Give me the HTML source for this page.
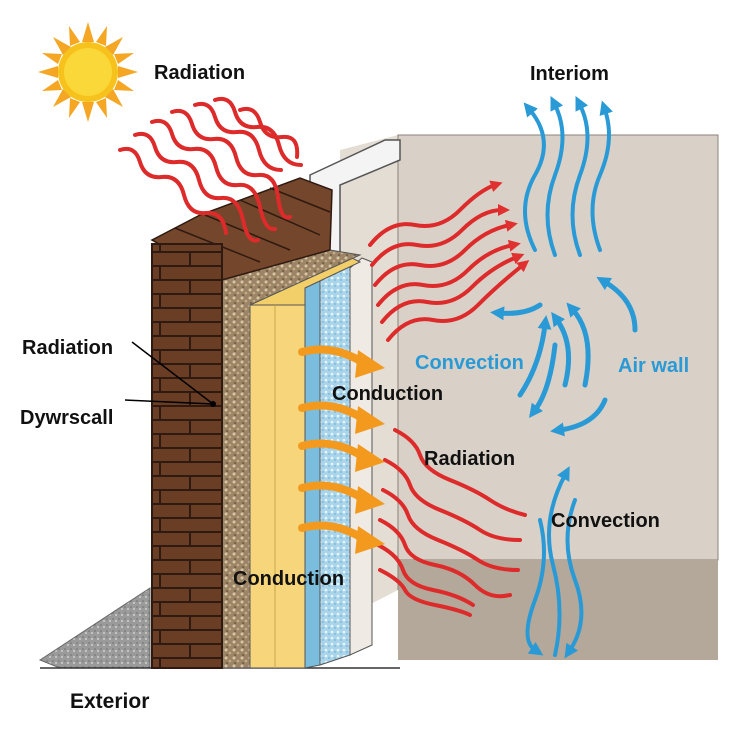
<!DOCTYPE html>
<html><head><meta charset="utf-8"><style>
html,body{margin:0;padding:0;background:#fff}
svg{display:block}
text{font-family:"Liberation Sans",sans-serif;font-weight:bold}
</style></head><body>
<svg width="738" height="735" viewBox="0 0 738 735" xmlns="http://www.w3.org/2000/svg">
<defs>
<pattern id="grav" width="8" height="8" patternUnits="userSpaceOnUse">
<rect width="8" height="8" fill="#9c8466"/><circle cx="2" cy="2" r="1.5" fill="#d9c6a4"/><circle cx="6" cy="5" r="1.3" fill="#c4ad88"/><circle cx="3" cy="7" r="1" fill="#6d5a44"/>
</pattern>
<pattern id="bspk" width="6" height="6" patternUnits="userSpaceOnUse">
<rect width="6" height="6" fill="#a9d4ea"/><circle cx="2" cy="2" r="1.3" fill="#e8f6ff"/><circle cx="5" cy="4" r="1" fill="#7fbcdc"/>
</pattern>
<pattern id="brick" width="70" height="28" patternUnits="userSpaceOnUse">
<rect width="70" height="28" fill="#6a3d25"/>
<path d="M0 0H70M0 14H70M0 28H70M50 0V14M20 14V28" stroke="#2e1a10" stroke-width="2"/>
</pattern>
<pattern id="grnd" width="6" height="6" patternUnits="userSpaceOnUse">
<rect width="6" height="6" fill="#9a9a9a"/><circle cx="2" cy="3" r="1" fill="#cfcfcf"/><circle cx="5" cy="1" r="0.8" fill="#6e6e6e"/>
</pattern>
<marker id="ab" markerUnits="userSpaceOnUse" markerWidth="14" markerHeight="14" refX="4" refY="7" orient="auto"><path d="M0,0 L14,7 L0,14z" fill="#2a9ad6"/></marker>
<marker id="ar" markerUnits="userSpaceOnUse" markerWidth="12" markerHeight="12" refX="4" refY="6" orient="auto"><path d="M0,0 L12,6 L0,12z" fill="#e03030"/></marker>
</defs>
<!-- room -->
<rect x="398" y="135" width="320" height="425" fill="#d9d1c7" stroke="#8a8178" stroke-width="1"/>
<polygon points="398,560 718,560 718,660 398,660" fill="#b3a899"/>
<polygon points="340,150 398,135 398,590 340,620" fill="#e4ddd3"/>
<line x1="398" y1="135" x2="398" y2="590" stroke="#8a8178"/>
<!-- white frame -->
<polygon points="310,175 385,140 400,140 400,160 340,185 340,275 325,275 325,195 310,195" fill="#f4f4f4" stroke="#555" stroke-width="1.5"/>
<!-- ground -->
<polygon points="40,660 150,588 150,668 60,668" fill="url(#grnd)" stroke="#666"/>
<line x1="40" y1="668" x2="400" y2="668" stroke="#333" stroke-width="1.5"/>
<!-- white panel -->
<polygon points="350,268 362,258 372,262 372,645 350,655" fill="#efebe4" stroke="#555"/>
<polygon points="320,278 350,262 350,655 320,665" fill="url(#bspk)" stroke="#555"/>
<polygon points="305,285 320,278 320,665 305,668" fill="#7bbddd" stroke="#555"/>
<polygon points="250,305 352,258 360,262 305,288 305,668 250,668" fill="#f3cf6a" stroke="#555"/>
<rect x="250" y="305" width="55" height="363" fill="#f7d57a" stroke="#555"/>
<line x1="275" y1="305" x2="275" y2="668" stroke="#c9a74a"/>
<polygon points="222,278 330,250 360,255 250,305 250,668 222,668" fill="url(#grav)" stroke="#555"/>
<!-- brick -->
<polygon points="152,240 200,215 300,178 332,190 330,250 222,280" fill="#74462b" stroke="#2e1a10" stroke-width="1.5"/>
<path d="M175,228 L260,262 M205,215 L290,250 M240,200 L320,235 M270,188 L330,212" stroke="#2e1a10" stroke-width="1.5"/>
<rect x="152" y="244" width="70" height="424" fill="url(#brick)" stroke="#2e1a10" stroke-width="2"/>
<circle cx="213" cy="404" r="3" fill="#000"/>
<line x1="132" y1="342" x2="213" y2="404" stroke="#000" stroke-width="1.5"/>
<line x1="125" y1="400" x2="213" y2="404" stroke="#000" stroke-width="1.5"/>
<!-- sun -->
<g transform="translate(88,72)">
<g fill="#f5a623">
<polygon points="0,-50 6,-30 -6,-30"/><polygon points="0,50 6,30 -6,30"/><polygon points="-50,0 -30,6 -30,-6"/><polygon points="50,0 30,6 30,-6"/>
<polygon points="35,-35 25,-17 17,-25"/><polygon points="-35,35 -25,17 -17,25"/><polygon points="35,35 17,25 25,17"/><polygon points="-35,-35 -17,-25 -25,-17"/>
<polygon points="19,-46 18,-26 8,-30" /><polygon points="-19,46 -18,26 -8,30"/><polygon points="46,19 26,18 30,8"/><polygon points="-46,-19 -26,-18 -30,-8"/>
<polygon points="-19,-46 -8,-30 -18,-26"/><polygon points="19,46 8,30 18,26"/><polygon points="46,-19 30,-8 26,-18"/><polygon points="-46,19 -30,8 -26,18"/>
</g>
<circle r="30" fill="#f7c21c"/><circle r="24" fill="#fbd83a"/>
</g>
<!-- red waves top-left -->
<g fill="none" stroke="#dd2b2b" stroke-width="4" stroke-linecap="round">
<path d="M120,150 q15,-5 20,12 t22,15 t22,18 t22,18 t20,20"/>
<path d="M135,135 q15,-5 20,12 t22,15 t22,18 t22,18 t22,22 t15,20"/>
<path d="M152,122 q15,-5 20,12 t22,15 t22,18 t22,18 t22,22 t15,22"/>
<path d="M172,112 q15,-5 20,12 t22,15 t22,18 t22,18 t20,22 t12,20"/>
<path d="M195,105 q15,-5 20,12 t22,15 t22,18 t22,20"/>
<path d="M215,100 q15,-5 20,12 t22,15 t22,18 t22,20"/>
<path d="M240,110 q15,-5 20,12 t22,15 t15,20"/>
</g>
<!-- red waves right upper -->
<g fill="none" stroke="#dd2b2b" stroke-width="4" stroke-linecap="round">
<path d="M370,245 q20,-25 45,-20 t45,-15 t35,-25" marker-end="url(#ar)"/>
<path d="M372,265 q20,-25 45,-20 t45,-15 t40,-20" marker-end="url(#ar)"/>
<path d="M375,285 q20,-25 45,-20 t45,-15 t45,-25" marker-end="url(#ar)"/>
<path d="M378,305 q20,-25 45,-20 t45,-15 t45,-25" marker-end="url(#ar)"/>
<path d="M382,322 q20,-25 45,-20 t45,-15 t45,-30" marker-end="url(#ar)"/>
<path d="M388,340 q20,-25 45,-20 t45,-15 t45,-40" marker-end="url(#ar)"/>
</g>
<!-- red waves lower -->
<g fill="none" stroke="#dd2b2b" stroke-width="4" stroke-linecap="round">
<path d="M395,430 q20,10 25,25 t30,25 t40,20 t35,15"/>
<path d="M385,460 q20,10 25,25 t30,25 t40,20 t40,10"/>
<path d="M383,490 q20,10 25,25 t30,25 t40,20 t40,10"/>
<path d="M380,520 q20,10 25,25 t30,20 t40,20 t35,10"/>
<path d="M378,545 q20,10 25,25 t30,20 t40,15"/>
<path d="M380,570 q20,10 25,20 t30,15 t35,10"/>
</g>
<!-- orange arrows -->
<g fill="none" stroke="#f39a1e" stroke-width="8" stroke-linecap="round">
<path d="M302,352 q30,-8 60,10"/><path d="M302,408 q30,-8 60,10"/><path d="M302,446 q30,-8 60,10"/><path d="M302,488 q30,-8 60,10"/><path d="M302,528 q30,-8 60,10"/>
</g>
<g fill="#f39a1e">
<polygon points="358,350 385,368 355,378"/><polygon points="358,406 385,424 355,434"/><polygon points="358,444 385,462 355,472"/><polygon points="358,486 385,504 355,514"/><polygon points="358,526 385,544 355,554"/>
</g>
<!-- blue arrows top -->
<g fill="none" stroke="#2a9ad6" stroke-width="4" stroke-linecap="round">
<path d="M535,250 q-20,-40 0,-75 t-5,-65" marker-end="url(#ab)"/>
<path d="M555,255 q-15,-40 0,-80 t0,-70" marker-end="url(#ab)"/>
<path d="M580,255 q-15,-40 0,-80 t0,-70" marker-end="url(#ab)"/>
<path d="M600,250 q-15,-40 0,-75 t5,-65" marker-end="url(#ab)"/>
</g>
<!-- blue curved middle -->
<g fill="none" stroke="#2a9ad6" stroke-width="5" stroke-linecap="round">
<path d="M540,305 q-15,10 -40,8" marker-end="url(#ab)"/>
<path d="M520,395 q20,-30 25,-70" marker-end="url(#ab)"/>
<path d="M565,385 q10,-40 -8,-65" marker-end="url(#ab)"/>
<path d="M585,385 q10,-50 -12,-75" marker-end="url(#ab)"/>
<path d="M555,345 q-5,45 -20,65" marker-end="url(#ab)"/>
<path d="M605,400 q-10,25 -45,30" marker-end="url(#ab)"/>
<path d="M635,330 q0,-30 -30,-48" marker-end="url(#ab)"/>
</g>
<!-- blue bottom -->
<g fill="none" stroke="#2a9ad6" stroke-width="4" stroke-linecap="round">
<path d="M540,520 q10,40 -5,80 t0,50" marker-end="url(#ab)"/>
<path d="M555,655 q10,-45 -2,-90 t12,-90" marker-end="url(#ab)"/>
<path d="M575,500 q-15,40 0,80 t-5,70" marker-end="url(#ab)"/>
</g>
<!-- labels -->
<text x="154" y="79" font-size="20" fill="#111">Radiation</text>
<text x="530" y="80" font-size="20" fill="#111">Interiom</text>
<text x="22" y="354" font-size="20" fill="#111">Radiation</text>
<text x="20" y="424" font-size="20" fill="#111">Dywrscall</text>
<text x="415" y="369" font-size="20" fill="#2a9ad6">Convection</text>
<text x="332" y="400" font-size="20" fill="#111">Conduction</text>
<text x="618" y="372" font-size="20" fill="#2a9ad6">Air wall</text>
<text x="424" y="465" font-size="20" fill="#111">Radiation</text>
<text x="551" y="527" font-size="20" fill="#111">Convection</text>
<text x="233" y="585" font-size="20" fill="#111">Conduction</text>
<text x="70" y="708" font-size="21" fill="#111">Exterior</text>
</svg>
</body></html>
